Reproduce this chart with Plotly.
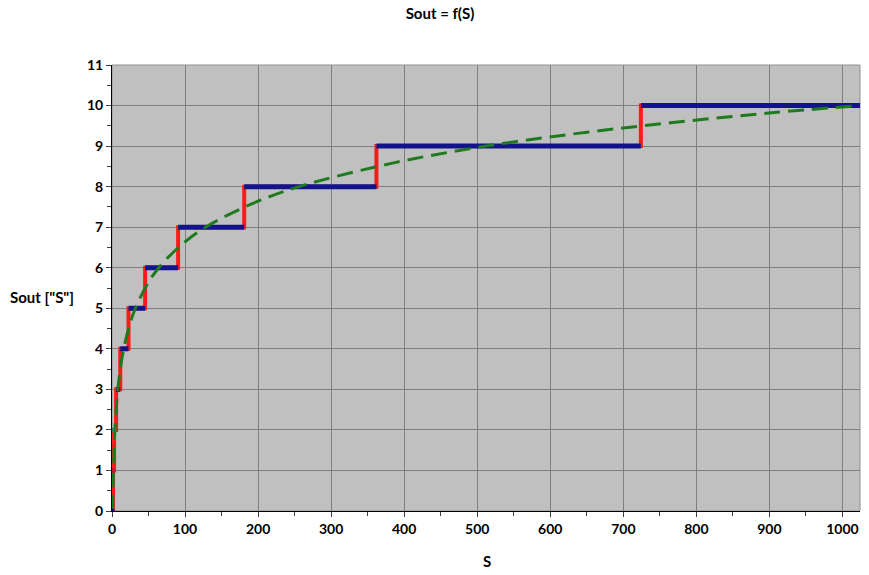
import plotly.graph_objects as go

# Step levels of Sout and the S values at which each level starts / ends
levels = [0, 1, 2, 3, 4, 5, 6, 7, 8, 9, 10]
step_starts = [0, 1.41, 2.83, 5.66, 11.3, 22.6, 45.3, 90.5, 181, 362, 724]
step_ends = [1.41, 2.83, 5.66, 11.3, 22.6, 45.3, 90.5, 181, 362, 724, 1024]

# Smooth trend curve (green dashed)
curve_s = [1, 1.5, 2, 3, 4, 6, 8, 12, 16, 24, 32, 48, 64, 96, 128, 192, 256, 384, 512, 640, 768, 896, 1024]
curve_y = [0, 0.58, 1, 1.58, 2, 2.58, 3, 3.58, 4, 4.58, 5, 5.58, 6, 6.58, 7, 7.58, 8, 8.58, 9, 9.32, 9.58, 9.81, 10]

x_ticks = [0, 100, 200, 300, 400, 500, 600, 700, 800, 900, 1000]
y_ticks = list(range(0, 12))

# Build step path (horizontal + vertical) and horizontal-only segments
path_x, path_y = [], []
hx, hy = [], []
for lv, a, b in zip(levels, step_starts, step_ends):
    path_x += [a, b]
    path_y += [lv, lv]
    hx += [a, b, None]
    hy += [lv, lv, None]

FONT = "Lato"
W, H = 869, 575
L, R, T, B = 112, 9, 65, 64
PW = W - L - R
PH = H - T - B

fig = go.Figure()

fig.add_trace(go.Scatter(x=path_x, y=path_y, mode="lines",
                         line=dict(color="#ff1a1a", width=4), hoverinfo="skip"))
fig.add_trace(go.Scatter(x=hx, y=hy, mode="lines",
                         line=dict(color="#14148a", width=5), hoverinfo="skip"))
fig.add_trace(go.Scatter(x=curve_s, y=curve_y, mode="lines",
                         line=dict(color="#1f7a1f", width=3, dash="16px,8px", shape="spline"),
                         hoverinfo="skip"))
fig.add_trace(go.Scatter(x=[0.3, 1.2, 2.5], y=[0, 1, 2], mode="markers",
                         marker=dict(size=5, color=["#14148a", "#c8143c", "#2e7d4a"]),
                         hoverinfo="skip"))

axis_common = dict(
    showline=True, linecolor="black", linewidth=1,
    showgrid=True, gridcolor="#7f7f7f", gridwidth=1,
    ticks="outside", ticklen=5, tickcolor="#404040",
    tickfont=dict(family=FONT, size=14, color="black", weight="bold"),
    zeroline=False, mirror=False, automargin=False,
)

fig.update_layout(
    width=W, height=H,
    margin=dict(l=L, r=R, t=T, b=B),
    paper_bgcolor="white", plot_bgcolor="#c0c0c0",
    showlegend=False,
    title=dict(text="<b>Sout = f(S)</b>", x=440 / W, xanchor="center", y=1 - 14 / H,
               yanchor="middle", font=dict(family=FONT, size=15, color="black"),
               automargin=False),
    xaxis=dict(range=[0, 1024], tickvals=x_ticks,
               minor=dict(dtick=50, ticks="outside", ticklen=4, tickcolor="#404040", showgrid=False),
               **axis_common),
    yaxis=dict(range=[0, 11], tickvals=y_ticks,
               minor=dict(dtick=0.5, ticks="outside", ticklen=4, tickcolor="#404040", showgrid=False),
               **axis_common),
    annotations=[
        dict(text="<b>Sout [\"S\"]</b>", xref="paper", yref="y", x=(41.5 - L) / PW, y=5.28,
             xanchor="center", yanchor="middle",
             showarrow=False, font=dict(family=FONT, size=15, color="black")),
        dict(text="<b>S</b>", xref="paper", yref="paper", x=(487 - L) / PW, y=(511 - 561) / PH,
             xanchor="center", yanchor="middle",
             showarrow=False, font=dict(family=FONT, size=15, color="black")),
    ],
    shapes=[
        dict(type="rect", xref="paper", yref="paper", x0=0, x1=1, y0=0, y1=1,
             line=dict(color="#909090", width=1), fillcolor="rgba(0,0,0,0)", layer="below"),
    ],
)

fig.write_html("out.html", config={"displayModeBar": False},
               post_script="document.body.style.margin='0';")
